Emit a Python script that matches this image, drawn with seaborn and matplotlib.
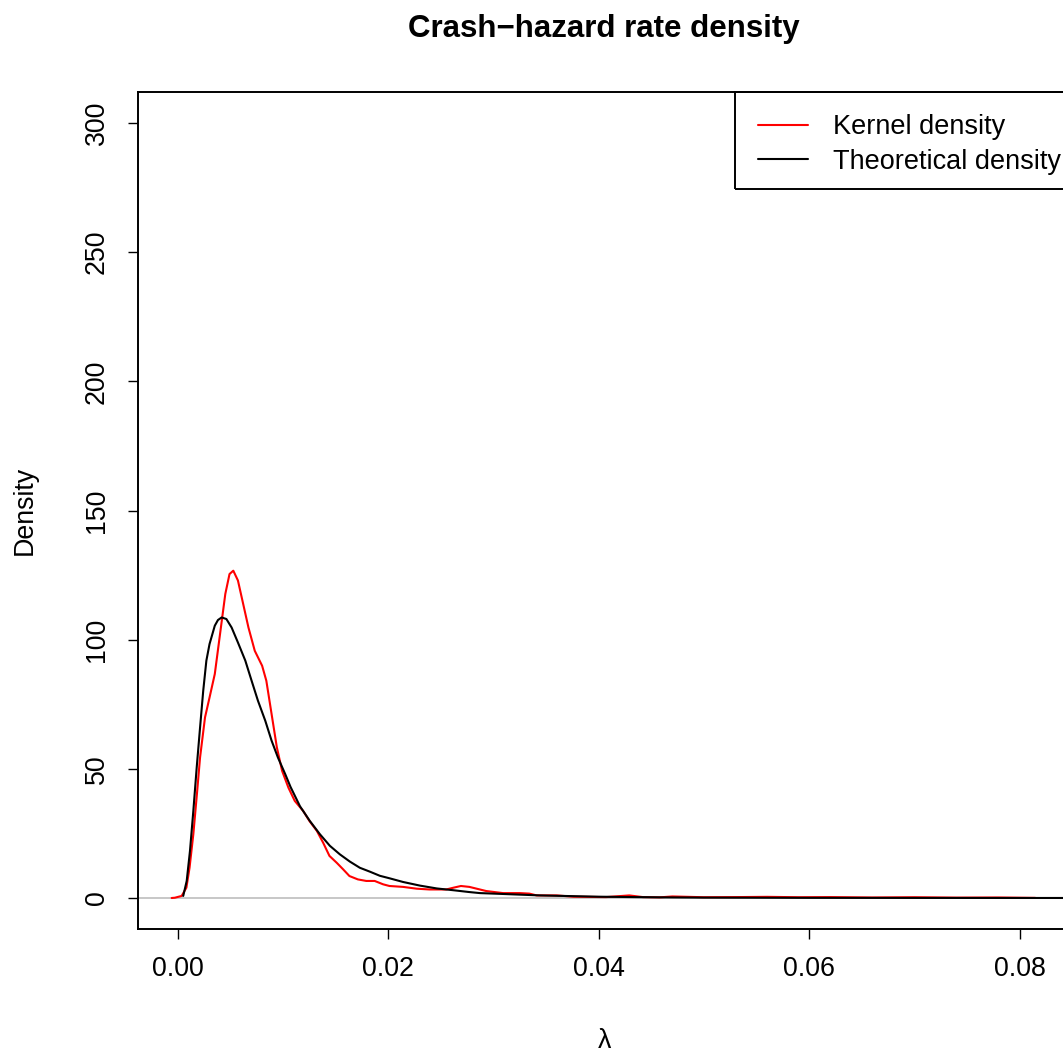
import numpy as np
import pandas as pd
import matplotlib
matplotlib.use("Agg")
import matplotlib.pyplot as plt
from matplotlib.patches import Rectangle
import seaborn as sns

# ---- data ----
kernel_x = [-0.0006, -0.0003, 0.00035, 0.0008, 0.0011, 0.00146, 0.0018, 0.0021, 0.00257,
            0.0030, 0.0035, 0.0040, 0.0045, 0.0049, 0.00526, 0.0057, 0.0062, 0.0067,
            0.0073, 0.0080, 0.0084, 0.0089, 0.0094, 0.0099, 0.0105, 0.0111, 0.0119,
            0.0125, 0.0132, 0.0138, 0.0144, 0.0151, 0.0157, 0.0163, 0.0171, 0.0179,
            0.0187, 0.0195, 0.0201, 0.0214, 0.0227, 0.0239, 0.0255, 0.0262, 0.0269,
            0.0277, 0.0287, 0.0293, 0.0309, 0.0325, 0.0334, 0.0341, 0.0360, 0.0376,
            0.0407, 0.0429, 0.0442, 0.0458, 0.0470, 0.0500, 0.0530, 0.0560, 0.0590,
            0.0620, 0.0660, 0.0700, 0.0740, 0.0780, 0.0815]
kernel_y = [0.0, 0.1, 0.8, 4.0, 11.7, 24.7, 40.2, 54.4, 69.9,
            77.6, 86.7, 102.2, 117.7, 125.4, 126.7, 122.9, 113.8, 104.7,
            95.7, 89.9, 84.1, 71.2, 58.3, 49.2, 42.7, 37.6, 33.7,
            29.8, 26.0, 21.4, 16.3, 13.6, 11.1, 8.5, 7.2, 6.6,
            6.6, 5.3, 4.65, 4.3, 3.6, 3.3, 3.3, 4.0, 4.65,
            4.3, 3.3, 2.7, 1.9, 1.9, 1.7, 1.0, 1.0, 0.5,
            0.35, 1.0, 0.35, 0.25, 0.6, 0.3, 0.35, 0.45, 0.3,
            0.35, 0.2, 0.3, 0.15, 0.2, 0.05]

theory_x = [0.0005, 0.00083, 0.00114, 0.00146, 0.00178, 0.0021, 0.0024, 0.0027, 0.0030,
            0.0035, 0.0038, 0.00415, 0.0046, 0.0051, 0.0057, 0.0064, 0.0070, 0.0076,
            0.0083, 0.0089, 0.0095, 0.0102, 0.0107, 0.0116, 0.01254, 0.01349, 0.01444,
            0.01539, 0.01634, 0.01729, 0.01824, 0.01919, 0.02014, 0.0214, 0.0230, 0.0246,
            0.0262, 0.0277, 0.0287, 0.0300, 0.0344, 0.0400, 0.0460, 0.0500, 0.0600,
            0.0700, 0.0800, 0.0900]
theory_y = [0.8, 6.6, 18.2, 33.7, 50.5, 66.0, 80.2, 91.9, 98.3,
            105.4, 107.6, 108.6, 108.0, 104.7, 98.9, 91.9, 84.1, 76.4,
            68.6, 60.9, 54.4, 47.9, 43.0, 35.5, 29.8, 24.7, 20.2,
            16.9, 14.1, 11.7, 10.2, 8.6, 7.6, 6.2, 4.8, 3.7,
            3.0, 2.3, 1.9, 1.7, 1.0, 0.5, 0.25, 0.15, 0.06,
            0.03, 0.01, 0.005]

x_ticks = [0.00, 0.02, 0.04, 0.06, 0.08]
x_tick_labels = ["0.00", "0.02", "0.04", "0.06", "0.08"]
y_ticks = [0, 50, 100, 150, 200, 250, 300]
y_tick_labels = ["0", "50", "100", "150", "200", "250", "300"]
series_labels = ["Kernel density", "Theoretical density"]

# ---- style ----
sns.set_style("white")
plt.rcParams["font.family"] = ["Liberation Sans", "DejaVu Sans"]
plt.rcParams["text.color"] = "black"
plt.rcParams["axes.labelcolor"] = "black"
plt.rcParams["xtick.color"] = "black"
plt.rcParams["ytick.color"] = "black"

W, H = 1063, 1056
fig = plt.figure(figsize=(W / 100, H / 100), dpi=100)
ax_left, ax_right, ax_top, ax_bottom = 138, 1070, 92, 929
ax = fig.add_axes([ax_left / W, 1 - ax_bottom / H,
                   (ax_right - ax_left) / W, (ax_bottom - ax_top) / H])

ax.axhline(0, color="#BEBEBE", lw=1.2, zorder=1)

kernel_df = pd.DataFrame({"x": kernel_x, "y": kernel_y})
theory_df = pd.DataFrame({"x": theory_x, "y": theory_y})
sns.lineplot(data=kernel_df, x="x", y="y", ax=ax, color="#FF0000", lw=1.5,
             label=series_labels[0], sort=True, zorder=3,
             solid_joinstyle="round")
sns.lineplot(data=theory_df, x="x", y="y", ax=ax, color="black", lw=1.5,
             label=series_labels[1], sort=True, zorder=4,
             solid_joinstyle="round")

ax.set_xlim(-0.0038, 0.0848)
ax.set_ylim(-12, 312)

ax.set_xticks(x_ticks)
ax.set_xticklabels(x_tick_labels)
ax.set_yticks(y_ticks)
ax.set_yticklabels(y_tick_labels, rotation=90, va="center")
ax.tick_params(axis="both", direction="out", length=7.2, width=1.0, colors="black",
               labelsize=19.3)
ax.tick_params(axis="x", pad=12)
ax.tick_params(axis="y", pad=13)
ax.tick_params(top=False, right=False, bottom=True, left=True)
ax.set_xlabel("")
ax.set_ylabel("")
for s in ax.spines.values():
    s.set_visible(True)
    s.set_color("black")
    s.set_linewidth(1.4)

# legend entries (no frame) placed like R's topright legend
leg = ax.legend(loc="upper left", bbox_to_anchor=(758 / W, 1 - 114.5 / H),
                bbox_transform=fig.transFigure, borderaxespad=0.0, borderpad=0.0,
                fontsize=19.5, frameon=False, handlelength=1.84,
                handletextpad=0.92, labelspacing=0.3)
for t in leg.get_texts():
    t.set_color("black")
# legend box
box = Rectangle((735 / W, 1 - 189 / H), (1070 - 735) / W, (189 - 92) / H,
                transform=fig.transFigure, fill=False, edgecolor="black",
                linewidth=1.4, clip_on=False, zorder=6)
ax.add_patch(box)

fig.text(604 / W, 1 - 37 / H, "Crash\u2212hazard rate density", ha="center",
         va="baseline", fontsize=22.5, fontweight="bold", color="black")
fig.text(604 / W, 1 - 1048 / H, "\u03bb", ha="center", va="baseline", fontsize=19.3,
         color="black")
fig.text(25 / W, 1 - 510 / H, "Density", ha="center", va="center", rotation=90,
         fontsize=19.3, color="black")

fig.savefig("out.png", dpi=100)
